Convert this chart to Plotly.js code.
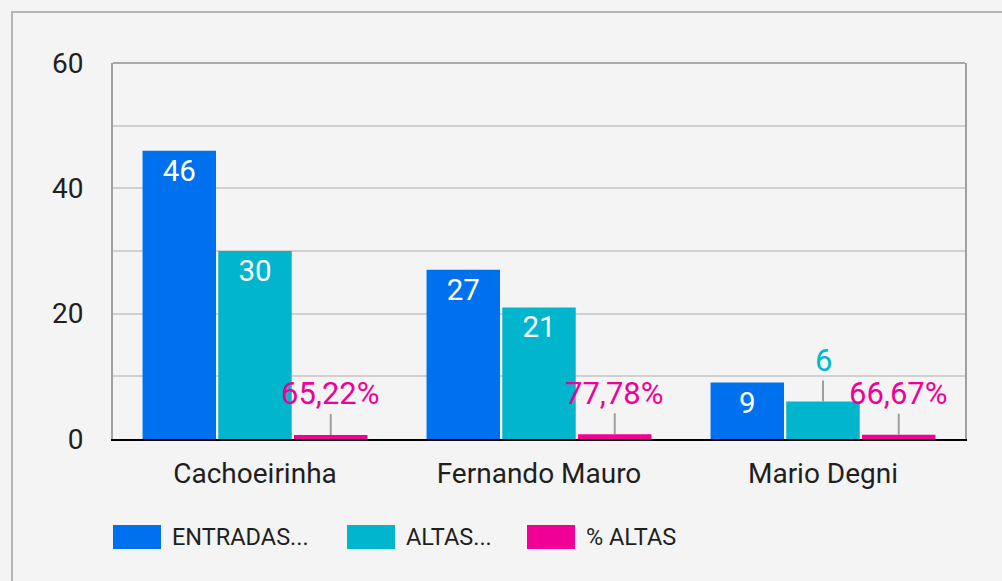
<!DOCTYPE html>
<html>
<head>
<meta charset="utf-8">
<script src="https://cdn.plot.ly/plotly-3.0.1.min.js"></script>
<style>
  html, body { margin:0; padding:0; background:#f4f4f4; overflow:hidden; }
  #frame { position:absolute; left:11px; top:11px; width:2000px; height:2000px;
           border-left:2px solid #b4b4b4; border-top:2px solid #b4b4b4; z-index:0; }
  #chart { position:absolute; left:0; top:0; width:1002px; height:581px; z-index:1; }
</style>
</head>
<body>
<div id="frame"></div>
<div id="chart"></div>
<script>
const categories = ["Cachoeirinha", "Fernando Mauro", "Mario Degni"];
const entradas = [46, 27, 9];
const altas = [30, 21, 6];
const pctAltas = [0.6522, 0.7778, 0.6667];
const seriesNames = ["ENTRADAS...", "ALTAS...", "% ALTAS"];
const colors = ["#0071ee", "#00b5cc", "#f00096"];
const yTicks = [0, 20, 40, 60];

const FONT = "Roboto, Arial, sans-serif";
const L = 113, R = 965, T = 63, B = 439, W = 1002, H = 581;
const px2x = p => (p - L) / (R - L);
const px2y = p => (B - p) / (B - T);

const fmtPct = v => (v * 100).toFixed(2).replace(".", ",") + "%";
const INSIDE_MIN = 8; // values below this are labelled above the bar with a leader line

function insideText(vals) { return vals.map(v => v >= INSIDE_MIN ? String(v) : ""); }

const traces = [
  { type: "bar", name: seriesNames[0], x: categories, y: entradas,
    marker: { color: colors[0] }, text: insideText(entradas),
    textposition: "inside", insidetextanchor: "end",
    textfont: { color: "#ffffff", size: 29.5, family: FONT }, hoverinfo: "none" },
  { type: "bar", name: seriesNames[1], x: categories, y: altas,
    marker: { color: colors[1] }, text: insideText(altas),
    textposition: "inside", insidetextanchor: "end",
    textfont: { color: "#ffffff", size: 29.5, family: FONT }, hoverinfo: "none" },
  { type: "bar", name: seriesNames[2], x: categories, y: pctAltas,
    marker: { color: colors[2] }, hoverinfo: "none" }
];

const nSeries = 3, bargap = 0.2;
const slot = (1 - bargap) / nSeries;
const annotations = [];
function addLeader(vals, k, color, fmt, onlySmall) {
  vals.forEach((v, i) => {
    if (onlySmall && v >= INSIDE_MIN) return;
    annotations.push({
      x: i + (k - (nSeries - 1) / 2) * slot, y: v, xref: "x", yref: "y",
      text: fmt(v), showarrow: true, arrowhead: 0, arrowwidth: 2, arrowcolor: "#9e9e9e",
      ax: 0, ay: -41, standoff: 0, startstandoff: 0,
      font: { family: FONT, size: 31, color: color }
    });
  });
}
addLeader(altas, 1, colors[1], v => String(v), true);
addLeader(pctAltas, 2, colors[2], fmtPct, false);

// custom legend
const shapes = [
  { type: "line", xref: "paper", yref: "paper", x0: 0, x1: 1, y0: 1, y1: 1,
    line: { color: "#a8a8a8", width: 2 } }
];
const legendX = [113, 347, 527];
seriesNames.forEach((n, k) => {
  const x0 = legendX[k];
  shapes.push({ type: "rect", xref: "paper", yref: "paper",
    x0: px2x(x0), x1: px2x(x0 + 48), y0: px2y(549), y1: px2y(525),
    fillcolor: colors[k], line: { width: 0 } });
  annotations.push({ xref: "paper", yref: "paper", x: px2x(x0 + 57), y: px2y(537),
    xanchor: "left", yanchor: "middle", showarrow: false, text: n,
    font: { family: FONT, size: 23.5, color: "#1f1f1f" } });
});

const layout = {
  width: W, height: H,
  margin: { l: L, r: W - R, t: T, b: H - B, pad: 0 },
  paper_bgcolor: "rgba(0,0,0,0)", plot_bgcolor: "rgba(0,0,0,0)",
  barmode: "group", bargap: bargap, bargroupgap: 0.03,
  showlegend: false,
  font: { family: FONT, color: "#1f1f1f" },
  xaxis: { type: "category", showgrid: false, showline: true, linecolor: "#000000", linewidth: 2,
    ticks: "", tickfont: { size: 28, family: FONT, color: "#1f1f1f" }, ticklabelstandoff: 8,
    fixedrange: true },
  yaxis: { range: [0, 60], tickvals: yTicks, ticktext: yTicks.map(String), showgrid: true,
    gridcolor: "#d0d0d0", gridwidth: 2,
    minor: { dtick: 10, showgrid: true, gridcolor: "#d0d0d0", gridwidth: 2, ticks: "" },
    showline: true, mirror: true, linecolor: "#a0a0a0", linewidth: 2, zeroline: false,
    ticks: "", tickfont: { size: 28, family: FONT, color: "#1f1f1f" }, ticklabelstandoff: 22,
    fixedrange: true },
  shapes: shapes,
  annotations: annotations
};

Plotly.newPlot("chart", traces, layout, { displayModeBar: false, staticPlot: true });
</script>
</body>
</html>
